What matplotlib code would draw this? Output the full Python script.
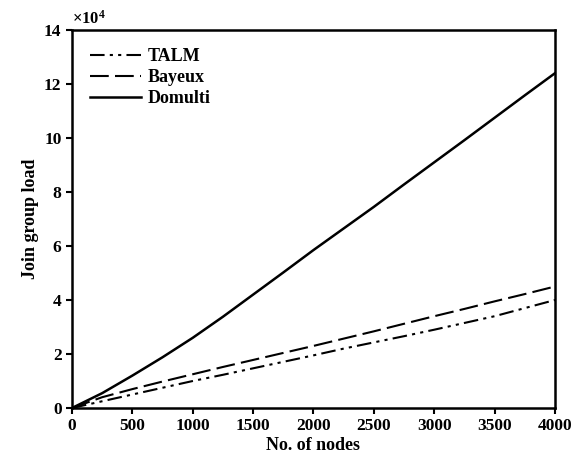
import matplotlib
matplotlib.use("Agg")
import matplotlib.pyplot as plt
import numpy as np

nodes = [0, 250, 500, 750, 1000, 1250, 1500, 1750, 2000, 2250, 2500, 2750, 3000, 3250, 3500, 3750, 4000]
talm = [0, 0.25, 0.5, 0.75, 1.0, 1.23, 1.47, 1.71, 1.95, 2.2, 2.43, 2.66, 2.9, 3.15, 3.4, 3.7, 4.0]
bayeux = [0, 0.4, 0.7, 0.98, 1.25, 1.52, 1.78, 2.04, 2.3, 2.57, 2.84, 3.12, 3.4, 3.67, 3.95, 4.22, 4.5]
domulti = [0, 0.55, 1.2, 1.88, 2.6, 3.38, 4.2, 5.02, 5.85, 6.65, 7.45, 8.28, 9.1, 9.92, 10.75, 11.58, 12.4]

plt.rcParams['font.family'] = ['Liberation Serif', 'DejaVu Serif']
plt.rcParams['font.weight'] = 'bold'
plt.rcParams['mathtext.fontset'] = 'custom'
plt.rcParams['mathtext.rm'] = 'Liberation Serif:bold'
plt.rcParams['mathtext.bf'] = 'Liberation Serif:bold'

fig = plt.figure(figsize=(5.81, 4.59), dpi=100)
ax = fig.add_axes([0.1239, 0.1111, 0.8313, 0.8235])

ax.plot(nodes, talm, color='black', lw=1.5, dashes=(7, 2.5, 1.5, 2.5, 1.5, 2.5), label='TALM')
ax.plot(nodes, bayeux, color='black', lw=1.5, dashes=(9, 3), label='Bayeux')
ax.plot(nodes, domulti, color='black', lw=1.8, label='Domulti')

ax.set_xlim(0, 4000)
ax.set_ylim(0, 14)
ax.set_xticks(np.arange(0, 4001, 500))
ax.set_yticks(np.arange(0, 15, 2))
ax.tick_params(direction='out', length=4, width=1.5, labelsize=12.5, top=False, right=False)
for s in ax.spines.values():
    s.set_linewidth(1.8)
ax.set_xlabel('No. of nodes', fontsize=13, labelpad=2, fontweight='bold')
ax.set_ylabel('Join group load', fontsize=13, labelpad=4, fontweight='bold')
ax.text(0.0, 1.005, r'$\mathrm{\times 10^4}$', transform=ax.transAxes, fontsize=12, ha='left', va='bottom')
ax.legend(loc='upper left', frameon=False, fontsize=13, handlelength=2.8,
          labelspacing=0.22, borderaxespad=0.6, handletextpad=0.4)

fig.savefig('out.png', dpi=100)
